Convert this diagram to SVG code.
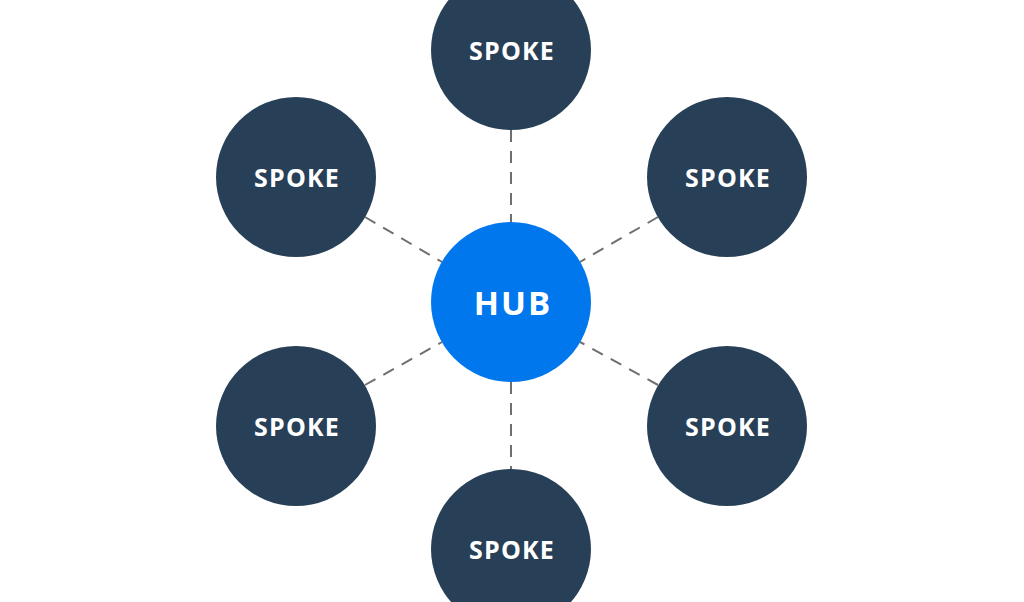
<svg xmlns="http://www.w3.org/2000/svg" width="1024" height="602" viewBox="0 0 1024 602">
<style>
.spoke{fill:#284057}
.hub{fill:#0077ed}
.lbl{fill:#ffffff;font-family:"Open Sans","Liberation Sans",sans-serif;font-weight:700;text-anchor:middle}
.s{font-size:25px;letter-spacing:1.2px}
.h{font-size:33px;letter-spacing:2px}
.conn line{stroke:#6e6e73;stroke-width:2;stroke-dasharray:12 9}
</style>
<rect width="1024" height="602" fill="#ffffff"/>
<g id="connectors" class="conn">
<line x1="511" y1="130" x2="511" y2="222"/>
<line x1="511" y1="382" x2="511" y2="469"/>
<line x1="365" y1="217" x2="442" y2="262"/>
<line x1="658" y1="217" x2="580" y2="262"/>
<line x1="365" y1="385" x2="442" y2="342"/>
<line x1="658" y1="385" x2="580" y2="342"/>
</g>
<g id="hub"><circle class="hub" cx="511" cy="302" r="80"/><text class="lbl h" x="513" y="315">HUB</text></g>
<g id="spoke-top"><circle class="spoke" cx="511" cy="50" r="80"/><text class="lbl s" x="512" y="60">SPOKE</text></g>
<g id="spoke-upper-left"><circle class="spoke" cx="296" cy="177" r="80"/><text class="lbl s" x="297" y="187">SPOKE</text></g>
<g id="spoke-upper-right"><circle class="spoke" cx="727" cy="177" r="80"/><text class="lbl s" x="728" y="187">SPOKE</text></g>
<g id="spoke-lower-left"><circle class="spoke" cx="296" cy="426" r="80"/><text class="lbl s" x="297" y="436">SPOKE</text></g>
<g id="spoke-lower-right"><circle class="spoke" cx="727" cy="426" r="80"/><text class="lbl s" x="728" y="436">SPOKE</text></g>
<g id="spoke-bottom"><circle class="spoke" cx="511" cy="549" r="80"/><text class="lbl s" x="512" y="559">SPOKE</text></g>
</svg>
